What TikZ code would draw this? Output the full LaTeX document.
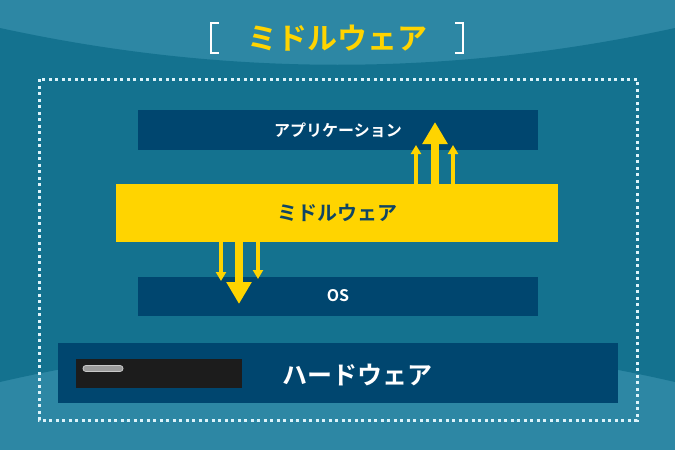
\documentclass[tikz,border=0pt]{standalone}
\usepackage{fontspec}
\newfontfamily\jpfont{Noto Sans CJK JP Bold}
\usetikzlibrary{arrows.meta}
\definecolor{bglight}{HTML}{2D87A4}
\definecolor{bgdark}{HTML}{14728F}
\definecolor{layernavy}{HTML}{00466F}
\definecolor{mwyellow}{HTML}{FFD400}
\definecolor{mwtext}{HTML}{0F4564}
\definecolor{dotline}{HTML}{DDF3FA}
\definecolor{hwblack}{HTML}{1C1C1C}
\definecolor{hwpill}{HTML}{9B9B9B}
\tikzset{
  layer/.style={fill=layernavy, inner sep=0pt, text=white, font=\jpfont},
  flowbig/.style={mwyellow, line width=8pt, -{Triangle[width=24pt,length=22pt]}},
  flowsmall/.style={mwyellow, line width=3.5pt, -{Triangle[width=10pt,length=9pt]}},
}
\begin{document}
\begin{tikzpicture}[x=1pt,y=-1pt]
      \useasboundingbox (0,0) rectangle (675,450);
%
      \fill[bglight] (0,0) rectangle (675,450);
      \fill[bgdark] (0,28) .. controls (225,77) and (450,77) .. (675,28)
      -- (675,382) .. controls (450,330) and (225,330) .. (0,382) --cycle;
%
      % title
      \node[font=\jpfont\fontsize{30}{30}\selectfont, text=mwyellow] (title) at (337,38) {ミドルウェア};
      \draw[white, line width=2pt] (219,23) -- (211,23) -- (211,53) -- (219,53);
      \draw[white, line width=2pt] (455,23) -- (463,23) -- (463,53) -- (455,53);
%
      \draw[dotline, line width=3pt, dash pattern=on 3pt off 3.5pt]
      (39,79) rectangle (637,420);
%
      % layers
      \node[layer, minimum width=400pt, minimum height=40pt, font=\jpfont\fontsize{16}{16}\selectfont]
      (app) at (338,130) {アプリケーション};
      \node[layer, minimum width=400pt, minimum height=39pt, font=\jpfont\fontsize{16}{16}\selectfont]
      (os) at (338,296) {OS};
      \node[fill=mwyellow, inner sep=0pt, minimum width=442pt, minimum height=58pt,
      text=mwtext, font=\jpfont\fontsize{20}{20}\selectfont] (mw) at (337,213) {ミドルウェア};
      \node[layer, minimum width=560pt, minimum height=60pt] (hw) at (338,373) {};
      \node[text=white, font=\jpfont\fontsize{25}{25}\selectfont] (hwlabel) at (357,375) {ハードウェア};
%
      % the machine on the left
      \fill[hwblack] (76,359) rectangle (242,388);
      \draw[hwpill!55!white, line width=7pt, line cap=round] (86,368.5) -- (120,368.5);
      \draw[hwpill, line width=5pt, line cap=round] (86,368.5) -- (120,368.5);
%
      % flows up to the applications
      \coordinate (upL) at (416,145);
      \coordinate (upM) at (435,122);
      \coordinate (upR) at (453,145);
      \draw[flowsmall] (mw.north -| upL) -- (upL);
      \draw[flowbig] (mw.north -| upM) -- (upM);
      \draw[flowsmall] (mw.north -| upR) -- (upR);
%
      % flows down to the os
      \coordinate (dnL) at (221,281);
      \coordinate (dnM) at (239,304);
      \coordinate (dnR) at (258,279);
      \draw[flowsmall] (mw.south -| dnL) -- (dnL);
      \draw[flowbig] (mw.south -| dnM) -- (dnM);
      \draw[flowsmall] (mw.south -| dnR) -- (dnR);
   \end{tikzpicture}
\end{document}
